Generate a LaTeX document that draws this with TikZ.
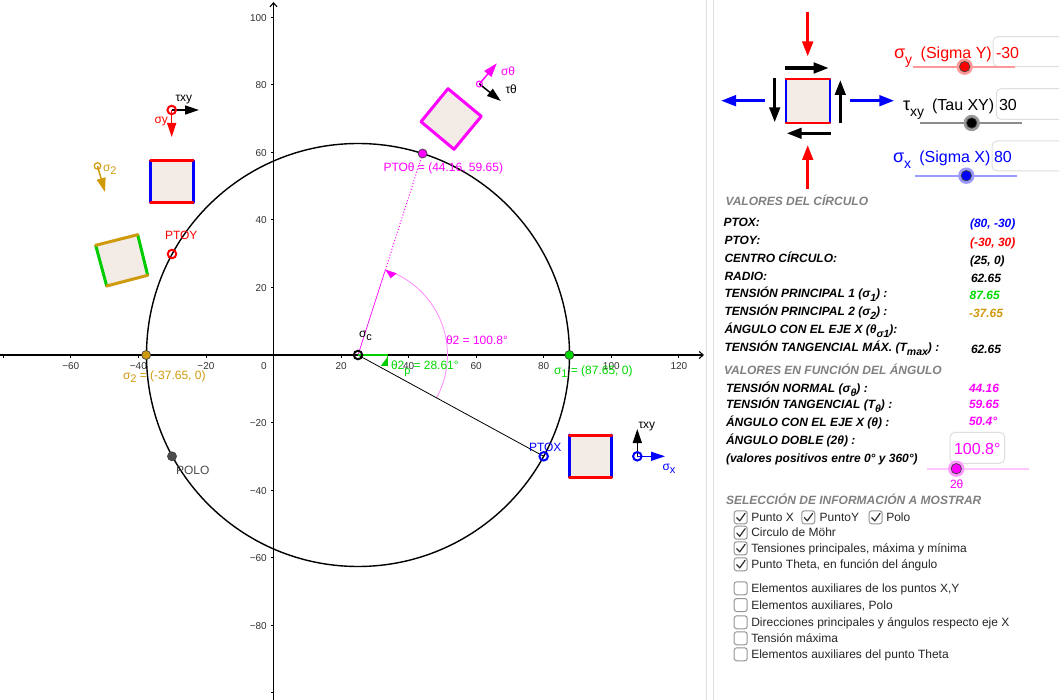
\documentclass[tikz,border=0pt]{standalone}
\usepackage{fontspec}
\setmainfont{Liberation Sans}
\usetikzlibrary{arrows.meta,calc}
\definecolor{cred}{HTML}{FF0000}
\definecolor{cblue}{HTML}{0000FF}
\definecolor{cmag}{HTML}{FF00FF}
\definecolor{cgold}{HTML}{CF9A0C}
\definecolor{cgreen}{HTML}{00CC00}
\definecolor{cpaper}{HTML}{F2EBE6}
\definecolor{cbord}{HTML}{DEDEDE}
\definecolor{chead}{HTML}{808080}
\definecolor{ctick}{HTML}{333333}
\newcommand{\fs}[1]{\fontsize{#1}{#1}\selectfont}
\newcommand{\subs}[2][3]{\raisebox{-#1pt}{\fs{11}#2}}
\newcommand{\hsubs}[2][6]{\raisebox{-#1pt}{\fs{14}#2}}
\newcommand{\bsubs}[2][4]{\raisebox{-#1pt}{\fs{10.5}#2}}
\tikzset{
  lab/.style={anchor=base west,inner sep=0pt,outer sep=0pt,font=\fs{12}},
  xtick/.style={anchor=base,inner sep=0pt,font=\fs{10},text=ctick},
  ytick/.style={anchor=base east,inner sep=0pt,font=\fs{10},text=ctick},
  big/.style={lab,font=\fs{16}},
  bigs/.style={lab,font=\fs{18}},
  listb/.style={lab,font=\fs{12}\bfseries\itshape},
  headb/.style={lab,font=\fs{12}\bfseries\itshape,text=chead},
  opt/.style={lab,font=\fs{12},text=black!85},
  openpt/.style={circle,draw=#1,line width=2pt,inner sep=0pt,minimum size=8.5pt,fill=none},
  fillpt/.style={circle,draw=black!75,line width=.7pt,inner sep=0pt,minimum size=9pt,fill=#1},
  paper/.style={fill=cpaper,draw=none},
  edge/.style={line width=3pt,line cap=round,draw=#1},
  thinedge/.style={line width=1.7pt,line cap=round,draw=#1},
  small/.style={line width=1.5pt,-{Triangle[length=14pt,width=9pt]},draw=#1,color=#1},
  force/.style={line width=3.1pt,-{Triangle[length=15pt,width=10.5pt]},draw=#1,color=#1},
  boxin/.style={draw=cbord,line width=1pt,rounded corners=5pt},
  track/.style={line width=2pt,draw=#1},
  chk/.style={draw=black!42,line width=1pt,rounded corners=2.5pt,fill=white,minimum size=13pt,inner sep=0pt,anchor=center},
  tickmk/.style={draw=black!82,line width=1.2pt,line cap=round,line join=round}
}
\newcommand{\knob}[3]{%
  \fill[#3!40!white] (#1,#2) circle[radius=8.2pt];
  \fill[#3,draw=black!75,line width=.7pt] (#1,#2) circle[radius=5.2pt];}
\newcommand{\chkon}[3]{%
  \node[chk] (#3) at (#1,#2) {};
  \draw[tickmk] ($(#3)+(-4,0.3)$) -- ($(#3)+(-1,3.6)$) -- ($(#3)+(4.4,-4)$);}
\begin{document}
\begin{tikzpicture}[x=1pt,y=-1pt]
\useasboundingbox (0,0) rectangle (1060,700);
\fill[white] (0,0) rectangle (1060,700);
% panel separators
\draw[cbord,line width=1pt] (706.7,0) -- (706.7,700);
\draw[cbord,line width=1pt] (713.2,0) -- (713.2,700);
% axes
\coordinate (xa) at (0,355);
\coordinate (xb) at (704,355);
\coordinate (ya) at (273.5,700);
\coordinate (yb) at (273.5,2);
\draw[black,line width=1.1pt,-{Straight Barb[length=4pt,width=7pt]}] (xa) -- (xb);
\draw[black,line width=1.1pt,-{Straight Barb[length=4pt,width=7pt]}] (ya) -- (yb);
\foreach \v in {-80,-60,-40,-20,20,40,60,80,100,120}{
  \draw[black,line width=.8pt] ({273.5+3.378*\v},355) -- ({273.5+3.378*\v},358);}
\foreach \v in {-100,-80,-60,-40,-20,20,40,60,80,100}{
  \draw[black,line width=.8pt] (273.5,{355-3.378*\v}) -- (270.5,{355-3.378*\v});}
\foreach \v/\t in {-60/−60,-40/−40,-20/−20,20/20,40/40,60/60,80/80,100/100,120/120}{
  \node[xtick] (xl\v) at ({273.5+3.378*\v},369.5) {\t};}
\node[xtick] (xl0) at (264,369.5) {0};
\foreach \v/\t in {-80/−80,-60/−60,-40/−40,-20/−20,20/20,40/40,60/60,80/80,100/100}{
  \node[ytick] (yl\v) at (267,{355-3.378*\v+3.9}) {\t};}
% key points
\coordinate (C) at (358,355);
\coordinate (Ptx) at (543.7,456.3);
\coordinate (Pty) at (172,254);
\coordinate (Pol) at (172,456.3);
\coordinate (Pth) at (422.6,153.5);
\coordinate (Sa) at (569.4,355);
\coordinate (Sb) at (146.2,355);
% magenta angle construction
\coordinate (Arc) at ($(C)+(72.2:89.5pt)$);
\draw[cmag,line width=.7pt] (C) -- (Arc);
\draw[cmag,line width=1pt,dotted] (Arc) -- (Pth);
\draw[cmag!45,line width=.8pt] ($(C)+(-28.61:89.5pt)$) arc[start angle=-28.61,end angle=72.2,radius=89.5pt];
\fill[cmag] (Arc) -- (396.7,273.3) -- (390.7,278.3) -- cycle;
% Mohr circle and diameter
\draw[black,line width=1.4pt] (C) circle[radius=211.5pt];
\draw[black,line width=.8pt] (C) -- (Ptx);
% green angle
\draw[cgreen,line width=1.2pt] (C) -- (387.6,355) -- (387.6,366);
\fill[cgreen] (380.7,366) -- (387.7,356.7) -- (387.7,366) -- cycle;
% points
\node[openpt=black] (nC) at (C) {};
\node[openpt=cblue] (nX) at (Ptx) {};
\node[openpt=cred] (nY) at (Pty) {};
\node[fillpt=black!70] (nP) at (Pol) {};
\node[fillpt=cmag] (nT) at (Pth) {};
\node[fillpt=green!85!black] (nA) at (Sa) {};
\node[fillpt=cgold] (nB) at (Sb) {};
% circle labels
\node[lab] (lY) at (165,239.3) [text=cred] {PTOY};
\node[lab] (lX) at (529,451.3) [text=cblue] {PTOX};
\node[lab,text=black!70] (lP) at (176,474.3) {POLO};
\node[lab,text=cmag] (lT) at (383.5,171.3) {PTOθ = (44.16, 59.65)};
\node[lab,text=cgold] (lB) at (123,379.3) {σ\subs{2} = (-37.65, 0)};
\node[lab,text=green!85!black] (lA) at (554,374.3) {σ\subs{1} = (87.65, 0)};
\node[lab,text=cmag] (lAng) at (446,344.3) {θ2 = 100.8°};
\node[lab,text=green!85!black] (lG) at (391,369.3) {θ2\subs[5]{p}};
\node[lab,text=green!85!black] (lG2) at (413.5,369.3) {= 28.61°};
\node[lab] (lC) at (359,338) {σ\subs{c}};
% element squares
\fill[paper] (150.7,160.7) rectangle (193,202.7);
\draw[edge=cblue] (150.7,160.7) -- (150.7,202.7);
\draw[edge=cblue] (193,160.7) -- (193,202.7);
\draw[edge=cred] (150.7,160.7) -- (193,160.7);
\draw[edge=cred] (150.7,202.7) -- (193,202.7);
\fill[paper] (95.7,245.3) -- (137.7,234.7) -- (147.7,275.3) -- (106.7,286) -- cycle;
\draw[edge=cgreen] (95.7,245.3) -- (106.7,286);
\draw[edge=cgreen] (137.7,234.7) -- (147.7,275.3);
\draw[edge=cgold] (95.7,245.3) -- (137.7,234.7);
\draw[edge=cgold] (106.7,286) -- (147.7,275.3);
\draw[edge=cmag,fill=cpaper,line join=round] (448,88.7) -- (481.3,116.3) -- (454,149.3) -- (421,121.7) -- cycle;
\fill[paper] (569.3,435) rectangle (611.7,477);
\draw[edge=cblue] (569.3,435) -- (569.3,477);
\draw[edge=cblue] (611.7,435) -- (611.7,477);
\draw[edge=cred] (569.3,435) -- (611.7,435);
\draw[edge=cred] (569.3,477) -- (611.7,477);
% stress markers
\coordinate (mYt) at (199,110);
\coordinate (mYd) at (171.7,137);
\draw[small=black] (171.7,110) -- (mYt);
\draw[small=cred] (171.7,110) -- (mYd);
\node[openpt=cred] (mY) at (171.7,110) {};
\node[lab] (lmYt) at (175.5,102) {τxy};
\node[lab,text=cred] (lmYs) at (154.5,124) {σy};
\coordinate (m2d) at (105,192);
\draw[small=cgold] (97.5,166) -- (m2d);
\node[openpt=cgold,minimum size=6.5pt,line width=1.2pt] (m2) at (97.5,166) {};
\node[lab,text=cgold] (lm2) at (103,172) {σ\subs{2}};
\coordinate (mTa) at (496.8,63.3);
\coordinate (mTb) at (500.8,101);
\draw[small=cmag] (479.4,84) -- (mTa);
\draw[small=black] (479.4,84) -- (mTb);
\node[openpt=cmag,minimum size=6pt,line width=1pt] (mT) at (479.4,84) {};
\node[lab,text=cmag] (lmTa) at (501,75.5) {σθ};
\node[lab] (lmTb) at (505.5,94) {τθ};
\coordinate (mXa) at (665,456.3);
\coordinate (mXb) at (637.3,429);
\draw[small=cblue] (637.3,456.3) -- (mXa);
\draw[small=black] (637.3,456.3) -- (mXb);
\node[openpt=cblue] (mX) at (637.3,456.3) {};
\node[lab] (lmXb) at (638.5,428.5) {τxy};
\node[lab,text=cblue] (lmXa) at (662.5,470) {σ\subs{x}};
% top element in the panel
\fill[paper] (785.7,79) rectangle (830,122.7);
\draw[thinedge=cblue] (785.7,79) -- (785.7,122.7);
\draw[thinedge=cblue] (830,79) -- (830,122.7);
\draw[thinedge=cred] (785.7,79) -- (830,79);
\draw[thinedge=cred] (785.7,122.7) -- (830,122.7);
\draw[force=cred] (807.7,12) -- (807.7,56.5);
\draw[force=cred] (807.7,189.5) -- (807.7,145);
\draw[force=cblue] (765,100.7) -- (721,100.7);
\draw[force=cblue] (850,100.7) -- (894.3,100.7);
\draw[force=black] (784.7,68) -- (828.7,68);
\draw[force=black] (830.7,133.3) -- (786.7,133.3);
\draw[force=black] (774.7,77.7) -- (774.7,122.3);
\draw[force=black] (840.3,123.3) -- (840.3,80);
% sliders
\draw[boxin] (1059,36.7) -- (993,36.7) -- (993,66.7) -- (1059,66.7);
\node[bigs,text=cred] (ssy) at (894,58.5) {σ\hsubs{y}};
\node[big,text=cred] (tsy) at (920.7,58.5) {(Sigma Y)};
\node[big,text=cred] (vsy) at (996,58.5) {-30};
\draw[track=cred!40!white] (913.3,66.7) -- (1015,66.7);
\knob{964.7}{66.7}{cred}
\draw[boxin] (1059,88.7) -- (996.3,88.7) -- (996.3,119.3) -- (1059,119.3);
\node[bigs] (ssxy) at (903,110.5) {τ\hsubs{xy}};
\node[big] (tsxy) at (932,110.5) {(Tau XY)};
\node[big] (vsxy) at (999,110.5) {30};
\draw[track=black!45] (920,123) -- (1021.7,123);
\knob{971.7}{123}{black}
\draw[boxin] (1059,141) -- (992,141) -- (992,171) -- (1059,171);
\node[bigs,text=cblue] (ssx) at (893,162.5) {σ\hsubs{x}};
\node[big,text=cblue] (tsx) at (919.3,162.5) {(Sigma X)};
\node[big,text=cblue] (vsx) at (994,162.5) {80};
\draw[track=cblue!40!white] (915,175.7) -- (1016.7,175.7);
\knob{966.3}{175.7}{cblue}
% values of the circle
\node[headb] (h1) at (725.7,205.8) {VALORES DEL CÍRCULO};
\node[listb] (a1) at (723.5,226.8) {PTOX:};
\node[listb] (a2) at (724.5,245) {PTOY:};
\node[listb] (a3) at (724.5,262.8) {CENTRO CÍRCULO:};
\node[listb] (a4) at (724.5,281) {RADIO:};
\node[listb] (a5) at (724.5,298) {TENSIÓN PRINCIPAL 1 (σ\bsubs{1}) :};
\node[listb] (a6) at (724.5,316) {TENSIÓN PRINCIPAL 2 (σ\bsubs{2}) :};
\node[listb] (a7) at (724.5,334) {ÁNGULO CON EL EJE X (θ\bsubs{σ1}):};
\node[listb] (a8) at (724.5,352) {TENSIÓN TANGENCIAL MÁX. (T\bsubs{max}) :};
\node[listb,text=cblue] (b1) at (970,227.8) {(80, -30)};
\node[listb,text=cred] (b2) at (970,246.8) {(-30, 30)};
\node[listb] (b3) at (970,265) {(25, 0)};
\node[listb] (b4) at (971,282.8) {62.65};
\node[listb,text=green!85!black] (b5) at (969.7,300) {87.65};
\node[listb,text=cgold] (b6) at (969,317.8) {-37.65};
\node[listb] (b8) at (971,354) {62.65};
% values as a function of the angle
\node[headb] (h2) at (724,375) {VALORES EN FUNCIÓN DEL ÁNGULO};
\node[listb] (c1) at (726,392) {TENSIÓN NORMAL (σ\bsubs{θ}) :};
\node[listb] (c2) at (726,409) {TENSIÓN TANGENCIAL (T\bsubs{θ}) :};
\node[listb] (c3) at (726,426) {ÁNGULO CON EL EJE X (θ) :};
\node[listb] (c4) at (726,444) {ÁNGULO DOBLE (2θ) :};
\node[listb] (c5) at (726,462.3) {(valores positivos entre 0° y 360°)};
\node[listb,text=cmag] (d1) at (969,392) {44.16};
\node[listb,text=cmag] (d2) at (969,409) {59.65};
\node[listb,text=cmag] (d3) at (969,425.5) {50.4°};
\draw[boxin,fill=white] (950,432.3) rectangle (1004.7,463.3);
\node[big,anchor=base,text=cmag] (d4) at (977.3,454) {100.8°};
\draw[track=cmag!22!white] (927.3,468.7) -- (1029,468.7);
\knob{956.3}{468.7}{cmag}
\node[lab,anchor=base,text=cmag] (d5) at (956.7,488.3) {2θ};
% selection
\node[headb] (h3) at (726,504.8) {SELECCIÓN DE INFORMACIÓN A MOSTRAR};
\chkon{740.7}{517.3}{k1}
\chkon{808.3}{517.3}{k2}
\chkon{875.7}{517.3}{k3}
\chkon{740.7}{532.7}{k4}
\chkon{740.7}{548.3}{k5}
\chkon{740.7}{564.3}{k6}
\node[chk] (k7) at (740.7,588.3) {};
\node[chk] (k8) at (740.7,605) {};
\node[chk] (k9) at (740.7,622.3) {};
\node[chk] (k10) at (740.7,638.3) {};
\node[chk] (k11) at (740.7,654.3) {};
\node[opt] (t1) at (751.3,521.3) {Punto X};
\node[opt] (t2) at (819.7,521.3) {PuntoY};
\node[opt] (t3) at (886.3,521.3) {Polo};
\node[opt] (t4) at (751.3,536.5) {Circulo de Möhr};
\node[opt] (t5) at (751.3,552.3) {Tensiones principales, máxima y mínima};
\node[opt] (t6) at (751.3,568.2) {Punto Theta, en función del ángulo};
\node[opt] (t7) at (751.3,592.3) {Elementos auxiliares de los puntos X,Y};
\node[opt] (t8) at (751.3,609) {Elementos auxiliares, Polo};
\node[opt] (t9) at (751.3,626.2) {Direcciones principales y ángulos respecto eje X};
\node[opt] (t10) at (751.3,642.2) {Tensión máxima};
\node[opt] (t11) at (751.3,658.2) {Elementos auxiliares del punto Theta};
\end{tikzpicture}
\end{document}
